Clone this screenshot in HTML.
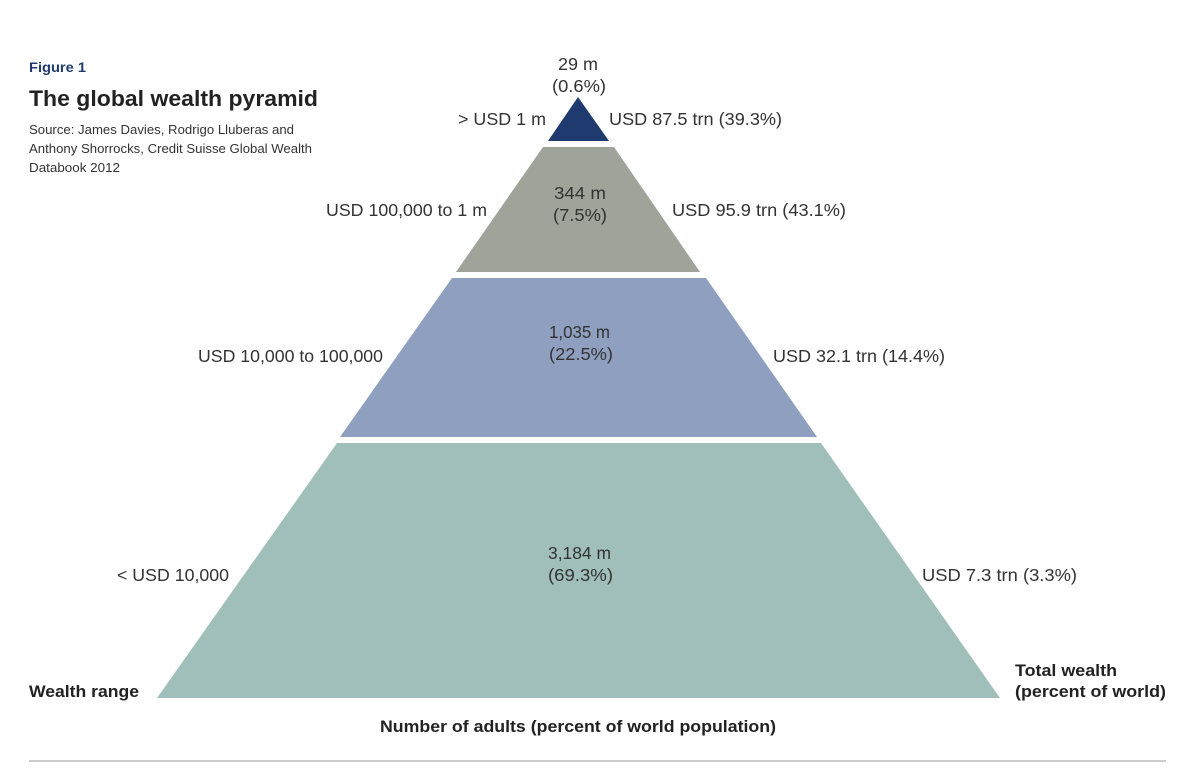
<!DOCTYPE html>
<html><head><meta charset="utf-8"><style>
html,body{margin:0;padding:0;background:#fff;}
svg{display:block;font-family:"Liberation Sans",Arial,sans-serif;}
</style></head><body>
<svg width="1201" height="776" viewBox="0 0 1201 776">
<text x="29" y="72" font-size="13.5" font-weight="bold" fill="#1f3a6e" textLength="57" lengthAdjust="spacingAndGlyphs">Figure 1</text>
<text x="29" y="106" font-size="22" font-weight="bold" fill="#222" textLength="289" lengthAdjust="spacingAndGlyphs">The global wealth pyramid</text>
<text x="29" y="134" font-size="13" fill="#333" textLength="265" lengthAdjust="spacingAndGlyphs">Source: James Davies, Rodrigo Lluberas and</text>
<text x="29" y="153" font-size="13" fill="#333" textLength="283" lengthAdjust="spacingAndGlyphs">Anthony Shorrocks, Credit Suisse Global Wealth</text>
<text x="29" y="172" font-size="13" fill="#333" textLength="91" lengthAdjust="spacingAndGlyphs">Databook 2012</text>

<polygon points="578,97 609,141 548,141" fill="#1f3a6e"/>
<polygon points="543,147 614,147 700,272 456,272" fill="#a0a39a"/>
<polygon points="452,278 706,278 817,437 340,437" fill="#8f9fc0"/>
<polygon points="337,443 821,443 1000,698 157,698" fill="#a0bfbb"/>

<g font-size="17.5" fill="#333" lengthAdjust="spacingAndGlyphs">
<text x="558" y="70" textLength="40" lengthAdjust="spacingAndGlyphs">29 m</text><text x="552" y="92" textLength="54" lengthAdjust="spacingAndGlyphs">(0.6%)</text>
<text x="554" y="199" textLength="52" lengthAdjust="spacingAndGlyphs">344 m</text><text x="553" y="221" textLength="54" lengthAdjust="spacingAndGlyphs">(7.5%)</text>
<text x="549" y="338" textLength="61" lengthAdjust="spacingAndGlyphs">1,035 m</text><text x="549" y="360" textLength="64" lengthAdjust="spacingAndGlyphs">(22.5%)</text>
<text x="548" y="559" textLength="63" lengthAdjust="spacingAndGlyphs">3,184 m</text><text x="548" y="581" textLength="65" lengthAdjust="spacingAndGlyphs">(69.3%)</text>

<text x="458" y="125" textLength="88" lengthAdjust="spacingAndGlyphs">&gt; USD 1 m</text>
<text x="326" y="216" textLength="161" lengthAdjust="spacingAndGlyphs">USD 100,000 to 1 m</text>
<text x="198" y="362" textLength="185" lengthAdjust="spacingAndGlyphs">USD 10,000 to 100,000</text>
<text x="117" y="581" textLength="112" lengthAdjust="spacingAndGlyphs">&lt; USD 10,000</text>

<text x="609" y="125" textLength="173" lengthAdjust="spacingAndGlyphs">USD 87.5 trn (39.3%)</text>
<text x="672" y="216" textLength="174" lengthAdjust="spacingAndGlyphs">USD 95.9 trn (43.1%)</text>
<text x="773" y="362" textLength="172" lengthAdjust="spacingAndGlyphs">USD 32.1 trn (14.4%)</text>
<text x="922" y="581" textLength="155" lengthAdjust="spacingAndGlyphs">USD 7.3 trn (3.3%)</text>
</g>
<g font-size="16.5" font-weight="bold" fill="#222">
<text x="29" y="697" textLength="110" lengthAdjust="spacingAndGlyphs">Wealth range</text>
<text x="1015" y="676" textLength="102" lengthAdjust="spacingAndGlyphs">Total wealth</text>
<text x="1015" y="697" textLength="151" lengthAdjust="spacingAndGlyphs">(percent of world)</text>
<text x="380" y="732" textLength="396" lengthAdjust="spacingAndGlyphs">Number of adults (percent of world population)</text>
</g>
<line x1="29" y1="761" x2="1166" y2="761" stroke="#999" stroke-width="1"/>
</svg>
</body></html>
